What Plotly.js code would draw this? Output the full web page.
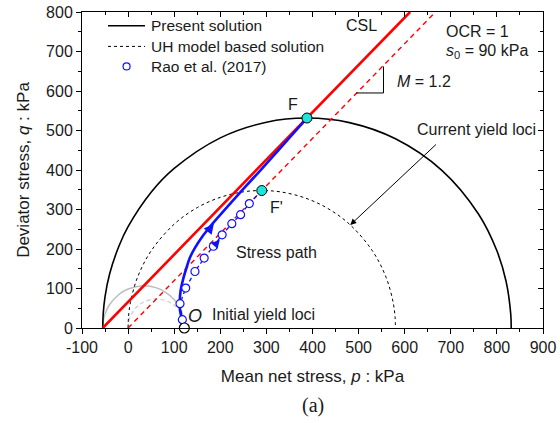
<!DOCTYPE html>
<html>
<head>
<meta charset="utf-8">
<script src="https://cdn.plot.ly/plotly-3.0.1.min.js"></script>
<style>html,body{margin:0;padding:0;background:#fff;}#chart{width:560px;height:423px;}</style>
</head>
<body>
<div id="chart"></div>
<script>
// ---- data ----
// Current yield locus (present solution, black solid)
const curP = [-55, -54, -50, -40, -20, 0, 50, 100, 200, 300, 388, 480, 580, 680, 760, 800, 820, 830, 831];
const curQ = [0, 35.7, 79.6, 137.2, 207.1, 256.5, 343.6, 403.9, 481.4, 521.0, 531.6, 520.0, 479.1, 399.8, 288.7, 195.4, 117.7, 35.7, 0];
// Current yield locus (UH model, black dashed)
const uhP = [0, 1, 5, 20, 50, 100, 150, 200, 250, 290, 330, 380, 430, 480, 530, 560, 575, 579, 580];
const uhQ = [0, 28.9, 64.3, 127, 195.3, 262.9, 304.8, 330.8, 344.7, 348, 344.7, 330.8, 304.8, 262.9, 195.3, 127, 64.3, 28.9, 0];
// Initial yield loci (grey)
const iniP = [-55, -54, -50, -40, -20, 0, 34, 60, 80, 100, 110, 118, 122, 123];
const iniQ = [0, 16, 35.3, 59.4, 84.9, 98.7, 106.8, 102.2, 91.4, 71.6, 55.6, 35.3, 16, 0];
const iniUhP = [0, 1, 5, 15, 30, 61.5, 93, 108, 118, 122, 123];
const iniUhQ = [0, 13.3, 29.1, 48.3, 63.4, 73.8, 63.4, 48.3, 29.1, 13.3, 0];
// Critical state lines
const cslP = [-55, 611.7];
const cslQ = [0, 800];
const cslUhP = [0, 666.7];
const cslUhQ = [0, 800];
// Stress path, present solution (blue solid)
const pathP = [122, 117, 113, 112, 114, 119, 126, 134, 145, 160, 176, 195, 220, 250, 290, 323, 355, 388];
const pathQ = [0, 20, 42, 65, 95, 122, 150, 178, 203, 230, 254, 280, 313, 352, 403, 446, 488, 531.6];
// Rao et al. (2017) test data
const raoP = [117.7, 112.6, 125, 145, 165, 185, 204, 225, 244, 263];
const raoQ = [21, 61.5, 101, 143, 177, 207, 236, 264, 287, 315];
// UH-model stress path (blue dashed) through data to F'
const uhPathP = [122, 117.7, 112.6, 125, 145, 165, 185, 204, 225, 244, 263, 290];
const uhPathQ = [0, 21, 61.5, 101, 143, 177, 207, 236, 264, 287, 315, 348];
// Key points
const ptF = {p: [388], q: [531.6]};
const ptF2 = {p: [290], q: [348]};
const ptO = {p: [122], q: [0]};
// Slope triangle for M = 1.2
const triP = [495, 554, 554];
const triQ = [595, 595, 662];
// Tick labels
const xTickVals = [-100, 0, 100, 200, 300, 400, 500, 600, 700, 800, 900];
const xTickText = ['-100', '0', '100', '200', '300', '400', '500', '600', '700', '800', '900'];
const yTickVals = [0, 100, 200, 300, 400, 500, 600, 700, 800];
const yTickText = ['0', '100', '200', '300', '400', '500', '600', '700', '800'];
// Legend entries
const legendNames = ['Present solution', 'UH model based solution', 'Rao et al. (2017)'];

const FONT = 'Liberation Sans, Arial, sans-serif';
const txt = '#1a1a1a';
const BLUE = '#1010ff';

const traces = [
  {x: iniP, y: iniQ, mode: 'lines', line: {color: '#bdbdbd', width: 1.5, shape: 'spline'}, hoverinfo: 'skip'},
  {x: iniUhP, y: iniUhQ, mode: 'lines', line: {color: '#cccccc', width: 1.2, dash: '4px,3px', shape: 'spline'}, hoverinfo: 'skip'},
  {x: curP, y: curQ, mode: 'lines', name: legendNames[0], line: {color: '#000', width: 1.6, shape: 'spline'}},
  {x: uhP, y: uhQ, mode: 'lines', name: legendNames[1], line: {color: '#000', width: 1, dash: '3px,3px', shape: 'spline'}},
  {x: cslUhP, y: cslUhQ, mode: 'lines', line: {color: '#ff0000', width: 1.4, dash: '5px,4px'}},
  {x: cslP, y: cslQ, mode: 'lines', line: {color: '#ff0000', width: 2.6}},
  {x: uhPathP, y: uhPathQ, mode: 'lines', line: {color: BLUE, width: 1.3, dash: '4px,3px'}},
  {x: pathP, y: pathQ, mode: 'lines', line: {color: BLUE, width: 2.6, shape: 'spline', smoothing: 1}},
  {x: raoP, y: raoQ, mode: 'markers', name: legendNames[2], cliponaxis: false,
   marker: {symbol: 'circle', size: 8, color: '#ffffff', line: {color: BLUE, width: 1.2}}},
  {x: triP, y: triQ, mode: 'lines', line: {color: '#000', width: 1}},
  {x: ptO.p, y: ptO.q, mode: 'markers', cliponaxis: false,
   marker: {size: 10, color: '#ffffff', line: {color: '#000', width: 1.2}}},
  {x: ptF.p, y: ptF.q, mode: 'markers', cliponaxis: false,
   marker: {size: 10, color: '#20e3dc', line: {color: '#000', width: 1}}},
  {x: ptF2.p, y: ptF2.q, mode: 'markers', cliponaxis: false,
   marker: {size: 10, color: '#20e3dc', line: {color: '#000', width: 1}}},
  {x: [null], y: [null], xaxis: 'x2', yaxis: 'y2', hoverinfo: 'skip'}
];

const ann = (x, y, text, extra) => Object.assign({x, y, xref: 'x', yref: 'y', text, showarrow: false,
  xanchor: 'center', yanchor: 'middle',
  font: {family: FONT, size: 16, color: txt}}, extra || {});

const axBase = {showgrid: false, zeroline: false, showline: true, linecolor: '#000', linewidth: 1,
  tickcolor: '#000', ticklen: 5, tickwidth: 1,
  tickfont: {family: FONT, size: 16, color: txt}};

// manual legend (positions in paper units)
const legRows = [0.9566, 0.8911, 0.8278];
const legX0 = 0.0564, legX1 = 0.1367, legTextX = 0.1455, legMarkX = 0.0967;
const shapes = [
  {type: 'line', xref: 'paper', yref: 'paper', x0: legX0, x1: legX1, y0: legRows[0], y1: legRows[0], line: {color: '#000', width: 1.6}},
  {type: 'line', xref: 'paper', yref: 'paper', x0: legX0, x1: legX1, y0: legRows[1], y1: legRows[1], line: {color: '#000', width: 1, dash: '3px,3px'}},
  {type: 'circle', xref: 'paper', yref: 'paper', xsizemode: 'pixel', ysizemode: 'pixel',
   xanchor: legMarkX, yanchor: legRows[2], x0: -3.5, x1: 3.5, y0: -3.5, y1: 3.5, line: {color: BLUE, width: 1.2}, fillcolor: '#fff'}
];
const legAnn = legendNames.map((t, i) => ({x: legTextX, y: legRows[i], xref: 'paper', yref: 'paper',
  xanchor: 'left', yanchor: 'middle',
  text: t, showarrow: false, font: {family: FONT, size: 15.5, color: txt}}));

const layout = {
  width: 560, height: 423,
  margin: {l: 82, r: 17, t: 12, b: 95},
  paper_bgcolor: '#fff', plot_bgcolor: '#fff',
  showlegend: false,
  xaxis: Object.assign({}, axBase, {range: [-100, 900], ticks: 'outside', tickmode: 'array', tickvals: xTickVals, ticktext: xTickText,
    minor: {dtick: 50, tick0: 0, ticks: 'outside', ticklen: 3, tickcolor: '#000'},
    title: {text: 'Mean net stress, <i>p</i> : kPa', font: {family: FONT, size: 17, color: txt}, standoff: 14}}),
  yaxis: Object.assign({}, axBase, {range: [0, 800], ticks: 'outside', tickmode: 'array', tickvals: yTickVals, ticktext: yTickText,
    minor: {dtick: 50, tick0: 0, ticks: 'outside', ticklen: 3, tickcolor: '#000'},
    title: {text: 'Deviator stress, <i>q</i> : kPa', font: {family: FONT, size: 17, color: txt}, standoff: 12}}),
  xaxis2: Object.assign({}, axBase, {range: [-100, 900], overlaying: 'x', side: 'top', anchor: 'y2', dtick: 100,
    ticks: 'inside', showticklabels: false, minor: {dtick: 50, ticks: 'inside', ticklen: 3, tickcolor: '#000'}}),
  yaxis2: Object.assign({}, axBase, {range: [0, 800], overlaying: 'y', side: 'right', anchor: 'x2', dtick: 100,
    ticks: 'inside', showticklabels: false, minor: {dtick: 50, ticks: 'inside', ticklen: 3, tickcolor: '#000'}}),
  shapes: shapes,
  annotations: legAnn.concat([
    ann(507, 767, 'CSL'),
    ann(686, 751, 'OCR = 1', {xanchor: 'left'}),
    ann(686, 700, '<i>s</i><sub>0</sub> = 90 kPa', {xanchor: 'left'}),
    ann(580, 624, '<i>M</i> = 1.2', {xanchor: 'left'}),
    ann(358, 565, 'F'),
    ann(322, 306, "F'"),
    ann(322, 190, 'Stress path'),
    ann(178, 34, 'Initial yield loci', {xanchor: 'left'}),
    ann(146, 30, '<i>O</i>', {font: {family: FONT, size: 18, color: txt}}),
    ann(755, 502, 'Current yield loci'),
    {x: 482, y: 261, ax: 671, ay: 468, xref: 'x', yref: 'y', axref: 'x', ayref: 'y', text: '',
     showarrow: true, arrowhead: 2, arrowsize: 1.2, arrowwidth: 1, arrowcolor: '#000'},
    {x: 186, y: 264, ax: 174, ay: 246, xref: 'x', yref: 'y', axref: 'x', ayref: 'y', text: '',
     showarrow: true, arrowhead: 2, arrowsize: 1, arrowwidth: 2, arrowcolor: BLUE},
    {x: 199, y: 224, ax: 188, ay: 209, xref: 'x', yref: 'y', axref: 'x', ayref: 'y', text: '',
     showarrow: true, arrowhead: 2, arrowsize: 1.3, arrowwidth: 1.3, arrowcolor: BLUE},
    {x: 0.5, y: 0, xref: 'paper', yref: 'paper', xanchor: 'center', yanchor: 'middle', yshift: -77, text: '(a)', showarrow: false,
     font: {family: 'Liberation Serif, Times New Roman, serif', size: 20, color: txt}}
  ])
};
traces.forEach(t => { t.showlegend = false; });

Plotly.newPlot('chart', traces, layout, {displayModeBar: false, staticPlot: true});
</script>
</body>
</html>
